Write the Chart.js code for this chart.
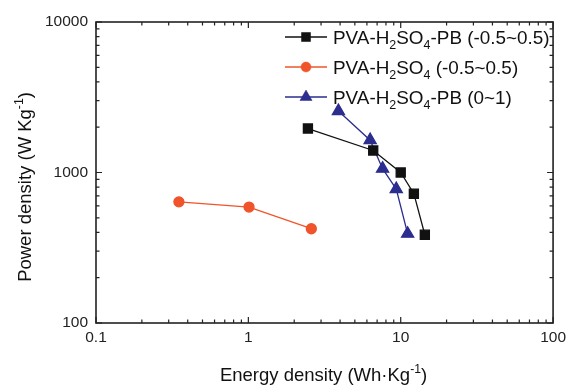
<!DOCTYPE html>
<html><head><meta charset="utf-8">
<script src="https://cdn.jsdelivr.net/npm/chart.js@4/dist/chart.umd.min.js"></script>
<style>html,body{margin:0;padding:0;background:#fff}#wrap{width:571px;height:387px}</style>
</head><body><div id="wrap"><canvas id="c" width="571" height="387"></canvas></div>
<script>
const seriesLabels = ['PVA-H\u2082SO\u2084-PB (-0.5~0.5)', 'PVA-H\u2082SO\u2084 (-0.5~0.5)', 'PVA-H\u2082SO\u2084-PB (0~1)'];
const energyPB = [2.46, 6.6, 10.0, 12.2, 14.4];
const powerPB = [1960, 1400, 1000, 723, 386];
const energyH = [0.35, 1.01, 2.59];
const powerH = [638, 589, 423];
const energyPB01 = [3.9, 6.3, 7.6, 9.35, 11.1];
const powerPB01 = [2560, 1640, 1060, 776, 392];
const xTicks = [0.1, 1, 10, 100];
const yTicks = [100, 1000, 10000];
const xTitle = 'Energy density (Wh\u00b7Kg\u207b\u00b9)';
const yTitle = 'Power density (W Kg\u207b\u00b9)';

const pts = (xs, ys) => xs.map((x, i) => ({x, y: ys[i]}));
const FONT = '"Liberation Sans", Arial, sans-serif';
const SUB = {'\u2080':'0','\u2081':'1','\u2082':'2','\u2083':'3','\u2084':'4'};
const SUP = {'\u207b':'-','\u00b9':'1'};

function richText(ctx, text, x, y, size, align) {
  const runs = [];
  for (const ch of text) {
    let kind = 'n', c = ch;
    if (SUB[ch]) { kind = 'sub'; c = SUB[ch]; }
    else if (SUP[ch]) { kind = 'sup'; c = SUP[ch]; }
    const last = runs[runs.length - 1];
    if (last && last.kind === kind) last.t += c; else runs.push({kind, t: c});
  }
  const sm = size * 0.66;
  let total = 0;
  runs.forEach(r => {
    ctx.font = (r.kind === 'n' ? size : sm) + 'px ' + FONT;
    r.w = ctx.measureText(r.t).width;
    total += r.w;
  });
  let cx = align === 'center' ? x - total / 2 : x;
  ctx.textBaseline = 'alphabetic';
  ctx.textAlign = 'left';
  runs.forEach(r => {
    ctx.font = (r.kind === 'n' ? size : sm) + 'px ' + FONT;
    const dy = r.kind === 'sub' ? size * 0.3 : r.kind === 'sup' ? -size * 0.42 : 0;
    ctx.fillText(r.t, cx, y + dy);
    cx += r.w;
  });
  return total;
}

function logTicks(min, max) {
  const out = [];
  for (let d = min; d < max * 0.999; d *= 10) {
    for (let k = 1; k <= 9; k++) out.push(+(d * k).toPrecision(3));
  }
  out.push(max);
  return out;
}

const frame = {
  id: 'frame',
  afterDraw(chart) {
    const ctx = chart.ctx, a = chart.chartArea;
    const xs = chart.scales.x, ys = chart.scales.y;
    ctx.save();
    ctx.strokeStyle = '#222';
    ctx.lineWidth = 1.6;
    ctx.strokeRect(a.left, a.top, a.right - a.left, a.bottom - a.top);
    ctx.lineWidth = 1.2;
    const isMajor = v => Math.abs(Math.log10(v) - Math.round(Math.log10(v))) < 1e-6;
    logTicks(0.1, 100).forEach(v => {
      const p = xs.getPixelForValue(v);
      const L = isMajor(v) ? 6 : 3.5;
      ctx.beginPath();
      ctx.moveTo(p, a.bottom); ctx.lineTo(p, a.bottom - L);
      ctx.moveTo(p, a.top); ctx.lineTo(p, a.top + L);
      ctx.stroke();
    });
    logTicks(100, 10000).forEach(v => {
      const p = ys.getPixelForValue(v);
      const L = isMajor(v) ? 6 : 3.5;
      ctx.beginPath();
      ctx.moveTo(a.left, p); ctx.lineTo(a.left + L, p);
      ctx.moveTo(a.right, p); ctx.lineTo(a.right - L, p);
      ctx.stroke();
    });
    ctx.fillStyle = '#111';
    richText(ctx, xTitle, (a.left + a.right) / 2 - 1, 381, 18.5, 'center');
    ctx.save();
    ctx.translate(31, 187);
    ctx.rotate(-Math.PI / 2);
    richText(ctx, yTitle, 0, 0, 18.5, 'center');
    ctx.restore();
    const lx0 = 285, lx1 = 327, tx = 333;
    const rows = [37, 67, 97];
    chart.data.datasets.forEach((ds, i) => {
      const y = rows[i];
      ctx.strokeStyle = ds.borderColor;
      ctx.lineWidth = 1.3;
      ctx.beginPath(); ctx.moveTo(lx0, y); ctx.lineTo(lx1, y); ctx.stroke();
      ctx.fillStyle = ds.pointBackgroundColor;
      ctx.strokeStyle = ds.pointBackgroundColor;
      ctx.lineWidth = 0.5;
      Chart.helpers.drawPoint(ctx, {pointStyle: ds.pointStyle, radius: ds.pointRadius, borderWidth: 0.5}, (lx0 + lx1) / 2, y);
      ctx.fillStyle = '#111';
      richText(ctx, ds.label, tx, y + 6.8, 18.9, 'left');
    });
    ctx.restore();
  }
};

new Chart(document.getElementById('c'), {
  type: 'scatter',
  data: {
    datasets: [
      {label: seriesLabels[0], data: pts(energyPB, powerPB), showLine: true,
       borderColor: '#111', backgroundColor: '#111', pointBackgroundColor: '#111', pointBorderColor: '#111',
       pointStyle: 'rect', pointRadius: 6.4, borderWidth: 1.3},
      {label: seriesLabels[1], data: pts(energyH, powerH), showLine: true,
       borderColor: '#f0542a', backgroundColor: '#f0542a', pointBackgroundColor: '#f0542a', pointBorderColor: '#f0542a',
       pointStyle: 'circle', pointRadius: 5, borderWidth: 1.3},
      {label: seriesLabels[2], data: pts(energyPB01, powerPB01), showLine: true,
       borderColor: '#2b2d8f', backgroundColor: '#2b2d8f', pointBackgroundColor: '#2b2d8f', pointBorderColor: '#2b2d8f',
       pointStyle: 'triangle', pointRadius: 7, borderWidth: 1.3}
    ]
  },
  options: {
    responsive: false, animation: false, devicePixelRatio: 1,
    layout: {padding: {left: 0, right: 13, top: 22, bottom: 0}},
    plugins: {legend: {display: false}, tooltip: {enabled: false}},
    elements: {line: {tension: 0}},
    scales: {
      x: {
        type: 'logarithmic', min: 0.1, max: 100,
        afterBuildTicks: s => { s.ticks = xTicks.map(v => ({value: v})); },
        afterFit: s => { s.height = 64; },
        grid: {display: false, drawTicks: false},
        border: {display: false},
        ticks: {color: '#222', font: {size: 15.5, family: FONT}, padding: 5, maxRotation: 0,
                callback: v => String(v)},
        title: {display: false}
      },
      y: {
        type: 'logarithmic', min: 100, max: 10000,
        afterBuildTicks: s => { s.ticks = yTicks.map(v => ({value: v})); },
        afterFit: s => { s.width = 96; },
        grid: {display: false, drawTicks: false},
        border: {display: false},
        ticks: {color: '#222', font: {size: 15.5, family: FONT}, padding: 8,
                callback: v => String(v)},
        title: {display: false}
      }
    }
  },
  plugins: [frame]
});
</script></body></html>
